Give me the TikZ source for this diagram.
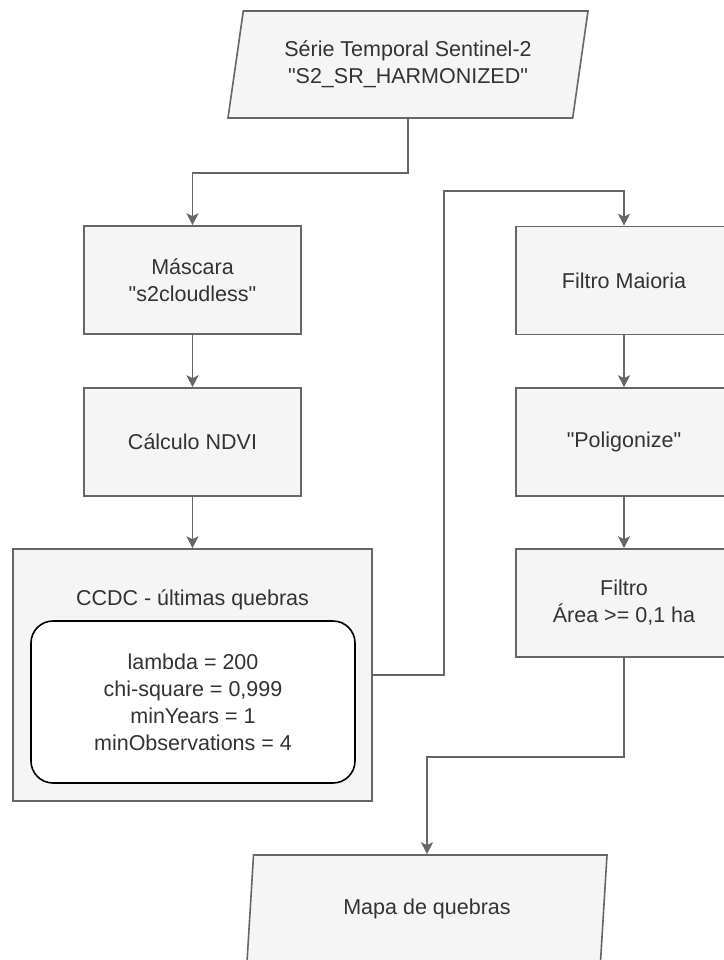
\documentclass[tikz,border=0pt]{standalone}
\usepackage{fontspec}
\setmainfont{Liberation Sans}
\usetikzlibrary{shapes.geometric, arrows.meta, positioning}

\definecolor{boxfill}{HTML}{F5F5F5}
\definecolor{boxline}{HTML}{666666}
\definecolor{boxtext}{HTML}{333333}

\begin{document}
\begin{tikzpicture}[x=1pt, y=-1pt,
    every node/.style={font=\fontsize{21.5}{27}\selectfont, text=boxtext, align=center},
    procbox/.style={draw=boxline, fill=boxfill, line width=1.6pt, rectangle, minimum width=217pt, minimum height=108pt, inner sep=0pt},
    databox/.style={draw=boxline, fill=boxfill, line width=1.6pt, trapezium, trapezium left angle=72, trapezium right angle=108, trapezium stretches body, minimum width=360pt, minimum height=107pt, inner sep=0pt},
    conn/.style={draw=boxline, line width=1.6pt, -{Stealth[length=12pt, width=12pt, inset=3pt]}}]
    \useasboundingbox (0,0) rectangle (723,960);

    % Input data
    \node[databox] (serie) at (408, 64.5) {Série Temporal Sentinel-2\\\textquotedbl S2\_SR\_HARMONIZED\textquotedbl};

    % Left column
    \node[procbox] (mascara) at (192.5, 280) {Máscara\\\textquotedbl s2cloudless\textquotedbl};
    \node[procbox] (ndvi) at (192.5, 442) {Cálculo NDVI};
    \node[procbox, minimum width=359pt, minimum height=252pt] (ccdc) at (192.5, 675) {};
    \node (ccdctitle) at (192.5, 600) {CCDC - últimas quebras};
    \node[draw=black, fill=white, line width=1.6pt, rounded corners=22pt, minimum width=324pt, minimum height=162pt] (params) at (193, 702)
        {lambda = 200\\chi-square = 0,999\\minYears = 1\\minObservations = 4};

    % Right column
    \node[procbox, minimum width=216pt] (maioria) at (624, 280.5) {Filtro Maioria};
    \node[procbox, minimum width=216pt] (poligon) at (624, 442) {\textquotedbl Poligonize\textquotedbl};
    \node[procbox, minimum width=216pt] (area) at (624, 603) {Filtro\\Área >= 0,1 ha};

    % Output
    \node[databox] (mapa) at (427, 908.5) {Mapa de quebras};

    % Connectors
    \draw[conn] (serie.center |- serie.south) -- ++(0,54) -| (mascara.north);
    \draw[conn] (mascara.south) -- (ndvi.north);
    \draw[conn] (ndvi.south) -- (ccdc.north);
    \draw[conn] (ccdc.east) -- ++(71,0) -- ++(0,-484) -| (maioria.north);
    \draw[conn] (maioria.south) -- (poligon.north);
    \draw[conn] (poligon.south) -- (area.north);
    \draw[conn] (area.south) -- ++(0,99) -| (mapa.center |- mapa.north);
\end{tikzpicture}
\end{document}
